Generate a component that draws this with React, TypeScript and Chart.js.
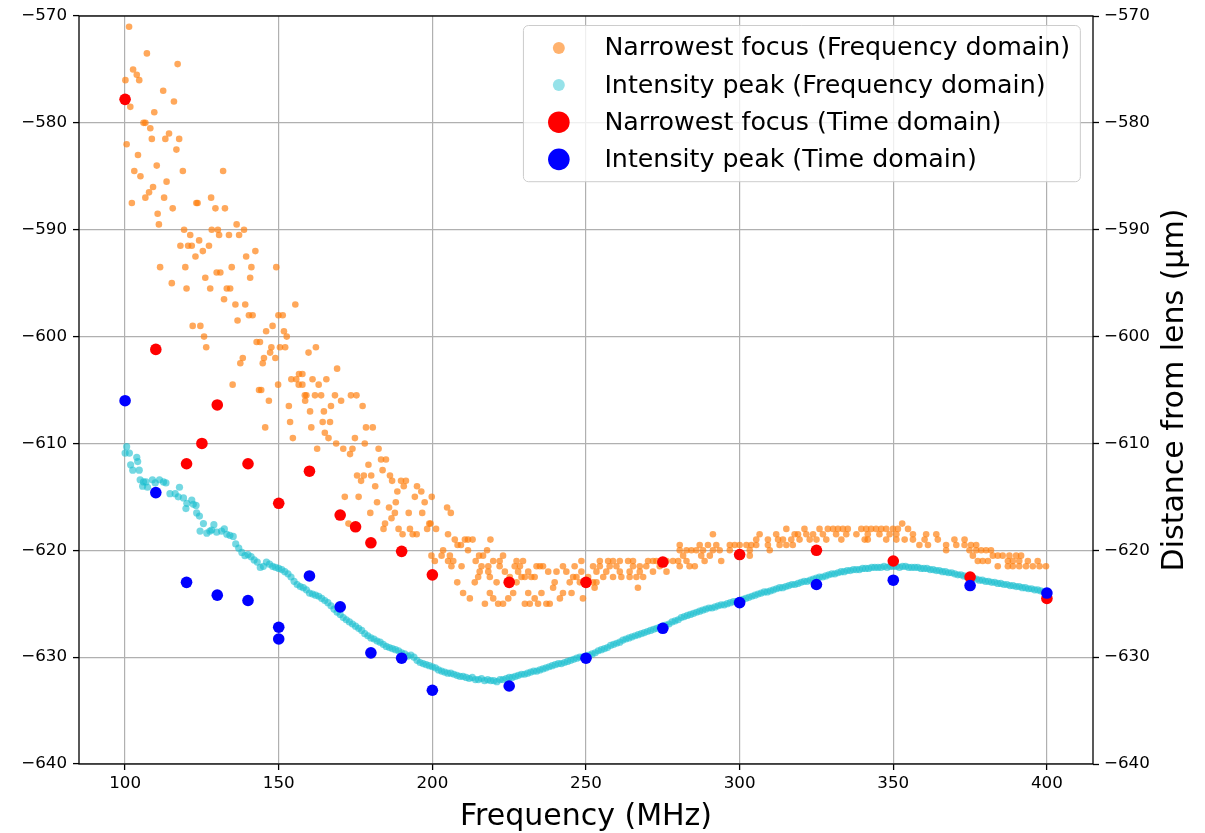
import React, { useEffect, useRef } from "react";
import { Chart, registerables } from "chart.js";

Chart.register(...registerables);

const FONT = "'DejaVu Sans', 'Liberation Sans', sans-serif";

// Axis ticks
const xTickValues = [100, 150, 200, 250, 300, 350, 400];
const yTickValues = [-640, -630, -620, -610, -600, -590, -580, -570];

// Time-domain measurements
const timeFreq = [100, 110, 120, 125, 130, 140, 150, 160, 170, 175, 180, 190, 200, 225, 250, 275, 300, 325, 350, 375, 400];
const narrowestTime = [-577.8, -601.2, -611.9, -610.0, -606.4, -611.9, -615.6, -612.6, -616.7, -617.8, -619.3, -620.1, -622.3, -623.0, -623.0, -621.1, -620.4, -620.0, -621.0, -622.5, -624.5];

const peakTimeFreq = [100, 110, 120, 130, 140, 150, 150, 160, 170, 180, 190, 200, 225, 250, 275, 300, 325, 350, 375, 400];
const peakTime = [-606.0, -614.6, -623.0, -624.2, -624.7, -627.2, -628.3, -622.4, -625.3, -629.6, -630.1, -633.1, -632.7, -630.1, -627.3, -624.9, -623.2, -622.8, -623.3, -624.0];

// Frequency-domain narrowest focus: [MHz, µm]
const narrowestFreq: [number, number][] = [
  [101.3, -571.0], [107.1, -573.5], [117.1, -574.5], [102.6, -575.0], [103.8, -575.5], [104.6, -576.0], [100.1, -576.0],
  [112.4, -577.0], [115.9, -578.0], [101.7, -578.5], [109.5, -579.0], [106.0, -580.0], [106.6, -580.0], [108.2, -580.5],
  [114.3, -581.0], [108.7, -581.5], [113.1, -581.5], [117.6, -581.5], [100.5, -582.0], [116.7, -582.5], [104.2, -583.0],
  [110.3, -584.0], [103.0, -584.5], [118.8, -584.5], [131.9, -584.5], [105.0, -585.0], [113.5, -585.5], [109.1, -586.0],
  [107.8, -586.5], [106.6, -587.0], [112.7, -587.0], [128.0, -587.0], [102.2, -587.5], [123.2, -587.5], [123.6, -587.5],
  [115.5, -588.0], [129.4, -588.0], [132.5, -588.0], [110.6, -588.5], [111.0, -589.5], [136.3, -589.5], [119.2, -590.0],
  [128.2, -590.0], [130.2, -590.0], [138.7, -590.0], [121.2, -590.5], [130.6, -590.5], [133.8, -590.5], [137.1, -590.5],
  [124.1, -591.0], [118.0, -591.5], [120.5, -591.5], [121.7, -591.5], [127.3, -591.5], [125.3, -592.0], [142.4, -592.0],
  [122.9, -592.5], [139.4, -592.5], [111.4, -593.5], [119.6, -593.5], [134.7, -593.5], [141.1, -593.5], [149.2, -593.5],
  [115.2, -595.0], [126.1, -594.5], [129.8, -594.0], [131.0, -594.0], [140.7, -594.5], [120.0, -595.5], [127.7, -595.5],
  [133.1, -595.5], [134.2, -595.5], [132.2, -596.5], [135.9, -597.0], [139.1, -597.0], [155.4, -597.0], [140.3, -598.0],
  [141.5, -598.0], [149.9, -598.0], [151.3, -598.0], [136.6, -598.5], [122.0, -599.0], [124.5, -599.0], [148.0, -599.0],
  [125.7, -600.0], [145.9, -599.5], [151.7, -599.5], [152.6, -600.0], [126.4, -601.0], [142.8, -600.5], [143.9, -600.5],
  [147.6, -601.0], [150.4, -601.0], [152.1, -601.0], [162.1, -601.0], [159.7, -601.5], [147.2, -601.5], [138.3, -602.0],
  [145.2, -602.0], [148.9, -602.0], [137.5, -602.5], [144.8, -602.5], [169.0, -603.0], [154.1, -604.0], [156.6, -603.5],
  [157.7, -603.5], [155.7, -604.0], [161.0, -604.0], [165.5, -604.0], [135.0, -604.5], [143.6, -605.0], [144.3, -605.0],
  [149.8, -604.5], [156.5, -604.5], [157.7, -604.5], [163.0, -604.5], [158.5, -605.5], [159.0, -605.5], [161.8, -605.5],
  [163.8, -605.5], [168.3, -605.5], [146.8, -606.0], [158.6, -606.0], [153.3, -606.5], [167.0, -606.5], [160.2, -607.0],
  [164.7, -607.0], [153.7, -608.0], [164.3, -608.0], [166.7, -608.0], [145.6, -608.5], [160.6, -608.5], [165.0, -609.0],
  [154.6, -609.5], [166.2, -609.5], [168.7, -610.0], [162.5, -610.5],
  [173.5, -605.5], [175.3, -605.5], [170.3, -606.0], [177.3, -606.5], [178.4, -608.5], [180.6, -608.5], [174.8, -609.5],
  [178.0, -610.0], [171.0, -610.5], [174.0, -610.5], [173.2, -611.0], [182.5, -610.5], [179.2, -612.0], [183.3, -611.5],
  [184.9, -611.5], [183.8, -612.5], [175.5, -613.0], [177.7, -613.0], [180.1, -613.0], [176.8, -613.5], [186.2, -613.0],
  [186.9, -613.5], [189.8, -613.5], [191.4, -613.5], [181.4, -614.0], [190.7, -614.0], [195.0, -614.0], [196.4, -614.5],
  [188.6, -614.5], [171.5, -615.0], [176.0, -615.0], [194.3, -615.0], [199.8, -615.0], [182.0, -615.5], [188.1, -615.5],
  [197.5, -615.5], [185.9, -616.0], [179.8, -616.5], [187.8, -616.5], [192.3, -616.5], [196.7, -616.5], [204.8, -616.0],
  [206.0, -616.5], [186.7, -617.0], [172.7, -617.5], [184.6, -617.5], [199.0, -617.5], [199.4, -617.5], [184.1, -618.0],
  [189.0, -618.0], [192.7, -618.0], [198.3, -618.0], [201.2, -618.0], [190.3, -618.5], [193.6, -618.5], [194.9, -618.5],
  [205.1, -618.5], [207.3, -619.0], [210.6, -619.0], [211.6, -619.0], [213.1, -619.0], [218.9, -619.0],
  [208.2, -619.5], [209.3, -619.5],
  [203.5, -620.0], [211.6, -620.0], [217.8, -620.0],
  [199.7, -620.5], [203.0, -620.5], [205.7, -620.5], [215.2, -620.5], [216.5, -620.5], [223.0, -620.5],
  [200.8, -621.0], [205.1, -621.0], [206.8, -621.0], [214.1, -621.0], [221.9, -621.0], [229.5, -621.0], [248.5, -621.0],
  [254.5, -621.0], [258.8, -621.0], [263.7, -621.0], [270.2, -621.0], [276.2, -621.0], [280.0, -621.0], [219.8, -621.0],
  [227.4, -621.0], [257.2, -621.0], [261.0, -621.0], [265.3, -621.0], [271.8, -621.0], [272.9, -621.0], [278.3, -621.0],
  [206.2, -621.5], [209.5, -621.5], [216.0, -621.5], [218.2, -621.5], [221.9, -621.5], [226.8, -621.5], [228.5, -621.5],
  [233.9, -621.5], [235.0, -621.5], [236.0, -621.5], [242.5, -621.5], [246.3, -621.5], [252.3, -621.5], [254.5, -621.5],
  [257.7, -621.5], [259.9, -621.5], [265.3, -621.5], [267.5, -621.5], [269.6, -621.5], [274.0, -621.5],
  [215.4, -622.0], [218.2, -622.0], [223.6, -622.0], [227.9, -622.0], [231.2, -622.0], [237.7, -622.0], [240.4, -622.0],
  [243.6, -622.0], [248.5, -622.0], [253.4, -622.0], [256.6, -622.0], [261.0, -622.0], [264.2, -622.0], [267.5, -622.0],
  [271.8, -622.0], [276.2, -622.0],
  [214.9, -622.5], [218.7, -622.5], [225.2, -622.5], [229.0, -622.5], [230.1, -622.5], [232.2, -622.5], [233.3, -622.5],
  [245.8, -622.5], [246.9, -622.5], [250.7, -622.5], [255.6, -622.5], [258.8, -622.5], [261.5, -622.5], [264.2, -622.5],
  [266.4, -622.5], [268.6, -622.5],
  [208.1, -623.0], [213.8, -623.0], [220.9, -623.0], [227.4, -623.0], [239.8, -623.0], [244.7, -623.0], [248.0, -623.0],
  [252.3, -623.0], [253.4, -623.0],
  [239.3, -623.5], [252.8, -623.5], [266.9, -623.5],
  [210.0, -624.0], [218.7, -624.0], [226.3, -624.0], [231.2, -624.0], [235.5, -624.0], [242.5, -624.0], [245.3, -624.0],
  [212.2, -624.5], [219.8, -624.5], [224.7, -624.5], [233.3, -624.5], [241.5, -624.5], [249.0, -624.5],
  [217.1, -625.0], [221.4, -625.0], [223.0, -625.0], [230.1, -625.0], [231.7, -625.0], [234.4, -625.0], [237.1, -625.0],
  [238.2, -625.0],
  [352.9, -617.5],
  [315.2, -618.0], [321.1, -618.0], [326.0, -618.0], [328.7, -618.0], [330.4, -618.0], [332.0, -618.0], [333.6, -618.0],
  [335.2, -618.0], [339.6, -618.0], [341.2, -618.0], [342.8, -618.0], [344.4, -618.0], [346.1, -618.0], [347.7, -618.0],
  [349.9, -618.0], [351.5, -618.0], [354.8, -618.0],
  [291.3, -618.5], [306.5, -618.5], [311.9, -618.5], [317.9, -618.5], [319.0, -618.5], [321.7, -618.5], [323.9, -618.5],
  [327.1, -618.5], [331.4, -618.5], [334.7, -618.5], [338.0, -618.5], [341.7, -618.5], [345.5, -618.5], [348.8, -618.5],
  [351.0, -618.5], [356.4, -618.5], [360.7, -618.5], [364.0, -618.5],
  [305.4, -619.0], [309.2, -619.0], [312.5, -619.0], [314.1, -619.0], [316.8, -619.0], [319.5, -619.0], [322.8, -619.0],
  [325.0, -619.0], [328.2, -619.0], [333.1, -619.0], [340.7, -619.0], [341.7, -619.0], [347.7, -619.0], [351.0, -619.0],
  [353.7, -619.0], [356.4, -619.0], [360.2, -619.0], [364.5, -619.0], [369.9, -619.0], [373.2, -619.0],
  [280.5, -619.5], [287.0, -619.5], [289.7, -619.5], [292.4, -619.5], [296.8, -619.5], [298.4, -619.5], [300.0, -619.5],
  [302.2, -619.5], [303.8, -619.5], [305.4, -619.5], [309.2, -619.5], [313.0, -619.5], [315.2, -619.5], [317.3, -619.5],
  [358.5, -619.5], [361.3, -619.5], [367.2, -619.5], [370.5, -619.5], [373.2, -619.5], [375.3, -619.5], [377.0, -619.5],
  [280.5, -620.0], [282.7, -620.0], [284.3, -620.0], [285.9, -620.0], [288.1, -620.0], [291.3, -620.0], [293.5, -620.0],
  [296.8, -620.0], [303.3, -620.0], [309.8, -620.0], [367.2, -620.0], [374.8, -620.0], [377.0, -620.0], [378.6, -620.0],
  [380.2, -620.0], [381.8, -620.0],
  [281.6, -620.5], [287.5, -620.5], [290.3, -620.5], [303.3, -620.5], [375.9, -620.5], [382.4, -620.5], [384.0, -620.5],
  [385.6, -620.5], [387.8, -620.5], [390.0, -620.5], [391.6, -620.5],
  [282.7, -621.0], [288.6, -621.0], [294.0, -621.0], [377.5, -621.0], [379.1, -621.0], [380.8, -621.0], [387.3, -621.0],
  [388.9, -621.0], [391.0, -621.0], [393.8, -621.0], [397.0, -621.0],
  [280.5, -621.5], [283.7, -621.5], [285.4, -621.5], [384.0, -621.5], [387.3, -621.5], [388.9, -621.5], [391.0, -621.5],
  [393.2, -621.5], [395.4, -621.5], [397.6, -621.5], [399.7, -621.5],
];

// Frequency-domain intensity peak: [MHz, µm]
const peakFreq: [number, number][] = [
  [100.0, -610.9], [100.5, -610.3], [101.4, -610.9], [101.8, -612.0], [102.5, -612.5], [103.8, -611.3], [104.1, -611.7],
  [104.6, -612.5], [104.9, -613.4], [105.7, -614.0], [106.0, -613.6], [106.8, -613.6], [107.3, -614.1], [108.9, -613.4],
  [109.8, -613.7], [111.2, -613.4], [112.5, -613.6], [113.3, -613.7], [114.6, -614.7], [116.3, -614.7], [117.3, -615.0],
  [117.7, -614.1], [119.0, -615.1], [119.8, -616.1], [120.1, -615.6], [121.7, -615.3], [122.2, -615.7], [123.1, -615.8],
  [123.3, -616.5], [124.2, -616.8], [124.4, -618.2], [125.5, -617.5], [126.6, -618.4], [127.6, -618.2], [128.2, -618.1],
  [128.9, -617.6], [129.8, -618.3], [131.4, -618.2], [132.3, -618.0], [133.1, -618.5], [134.1, -618.6], [135.2, -618.7],
  [136, -619.4], [137, -619.8], [138, -620.2], [139, -620.5], [140, -620.4], [141, -620.6], [142, -620.9], [143, -621.1],
  [144, -621.6], [145, -621.5], [146, -621.1], [147, -621.3], [148, -621.5], [149, -621.6], [150, -621.7], [151, -621.8],
  [152, -622.0], [153, -622.2], [154, -622.5], [155, -622.9], [156, -623.2], [157, -623.4], [158, -623.5], [159, -623.7],
  [160, -624.0], [161, -624.1], [162, -624.2], [163, -624.3], [164, -624.5], [165, -624.7], [166, -624.9], [167, -625.2],
  [168, -625.5], [169, -625.8], [170, -626.0], [171, -626.3], [172, -626.5], [173, -626.7], [174, -626.9], [175, -627.1],
  [176, -627.3], [177, -627.5], [178, -627.8], [179, -628.0], [180, -628.2], [181, -628.3], [182, -628.5], [183, -628.6],
  [184, -628.8], [185, -629.0], [186, -629.1], [187, -629.2], [188, -629.3], [189, -629.4], [190, -629.6], [191, -629.7],
  [192, -629.9], [193, -629.8], [194, -630.0], [195, -630.3], [196, -630.5], [197, -630.6], [198, -630.7], [199, -630.8],
  [200, -630.9], [201, -631.0], [202, -631.2], [203, -631.3], [204, -631.4], [205, -631.5], [206, -631.5], [207, -631.6],
  [208, -631.7], [209, -631.8], [210, -631.8], [211, -631.9], [212, -632.0], [213, -631.9], [214, -632.1], [215, -632.1],
  [216, -632.0], [217, -632.2], [218, -632.1], [219, -632.2], [220, -632.2], [221, -632.3], [222, -632.1], [223, -632.1],
  [224, -632.0], [225, -631.9], [226, -631.9], [227, -631.8], [228, -631.7], [229, -631.6], [230, -631.6], [231, -631.5],
  [232, -631.4], [233, -631.3], [234, -631.3], [235, -631.2], [236, -631.1], [237, -631.0], [238, -630.9], [239, -630.8],
  [240, -630.7], [241, -630.6], [242, -630.6], [243, -630.5], [244, -630.4], [245, -630.3], [246, -630.2], [247, -630.1],
  [248, -630.0], [249, -630.0], [250, -629.9], [251, -629.8], [252, -629.7], [253, -629.6], [254, -629.4], [255, -629.3],
  [256, -629.2], [257, -629.1], [258, -628.9], [259, -628.8], [260, -628.7], [261, -628.6], [262, -628.4], [263, -628.3],
  [264, -628.2], [265, -628.1], [266, -628.0], [267, -627.9], [268, -627.8], [269, -627.7], [270, -627.6], [271, -627.5],
  [272, -627.4], [273, -627.3], [274, -627.2], [275, -627.1], [276, -627.0], [277, -626.9], [278, -626.7], [279, -626.6],
  [280, -626.5], [281, -626.3], [282, -626.2], [283, -626.1], [284, -626.0], [285, -625.9], [286, -625.8], [287, -625.7],
  [288, -625.6], [289, -625.5], [290, -625.4], [291, -625.4], [292, -625.3], [293, -625.2], [294, -625.1], [295, -625.1],
  [296, -625.0], [297, -624.9], [298, -624.8], [299, -624.8], [300, -624.7], [301, -624.6], [302, -624.5], [303, -624.4],
  [304, -624.3], [305, -624.2], [306, -624.1], [307, -624.0], [308, -623.9], [309, -623.9], [310, -623.8], [311, -623.7],
  [312, -623.6], [313, -623.5], [314, -623.5], [315, -623.4], [316, -623.3], [317, -623.2], [318, -623.2], [319, -623.1],
  [320, -623.0], [321, -622.9], [322, -622.9], [323, -622.8], [324, -622.7], [325, -622.6], [326, -622.5], [327, -622.5],
  [328, -622.4], [329, -622.3], [330, -622.2], [331, -622.2], [332, -622.1], [333, -622.0], [334, -622.0], [335, -621.9],
  [336, -621.9], [337, -621.8], [338, -621.8], [339, -621.8], [340, -621.7], [341, -621.7], [342, -621.7], [343, -621.6],
  [344, -621.6], [345, -621.6], [346, -621.6], [347, -621.5], [348, -621.6], [349, -621.5], [350, -621.5], [351, -621.5],
  [352, -621.6], [353, -621.5], [354, -621.5], [355, -621.6], [356, -621.6], [357, -621.6], [358, -621.6], [359, -621.7],
  [360, -621.7], [361, -621.7], [362, -621.8], [363, -621.8], [364, -621.9], [365, -621.9], [366, -622.0], [367, -622.0],
  [368, -622.1], [369, -622.1], [370, -622.2], [371, -622.3], [372, -622.3], [373, -622.4], [374, -622.5], [375, -622.6],
  [376, -622.6], [377, -622.7], [378, -622.8], [379, -622.8], [380, -622.9], [381, -622.9], [382, -623.0], [383, -623.0],
  [384, -623.1], [385, -623.1], [386, -623.2], [387, -623.2], [388, -623.3], [389, -623.3], [390, -623.4], [391, -623.4],
  [392, -623.5], [393, -623.5], [394, -623.6], [395, -623.6], [396, -623.7], [397, -623.7], [398, -623.8], [399, -623.9],
  [400, -623.9],
];

const seriesLabels = [
  "Narrowest focus (Frequency domain)",
  "Intensity peak (Frequency domain)",
  "Narrowest focus (Time domain)",
  "Intensity peak (Time domain)",
];

const fmt = (v: number) => (v < 0 ? "\u2212" + Math.abs(v) : String(v));

const frameAndTextPlugin = {
  id: "frameAndText",
  afterDatasetsDraw(chart: any) {
    const { ctx, chartArea: a } = chart;
    ctx.save();
    // axes frame (spines)
    ctx.strokeStyle = "#000";
    ctx.lineWidth = 1.3;
    ctx.strokeRect(a.left, a.top, a.right - a.left, a.bottom - a.top);

    // axis titles
    ctx.fillStyle = "#000";
    ctx.font = `30px ${FONT}`;
    ctx.textAlign = "center";
    ctx.textBaseline = "alphabetic";
    ctx.fillText("Frequency (MHz)", (a.left + a.right) / 2, a.bottom + 61);
    ctx.save();
    ctx.translate(a.right + 90, (a.top + a.bottom) / 2);
    ctx.rotate(-Math.PI / 2);
    ctx.fillText("Distance from lens (\u00b5m)", 0, 0);
    ctx.restore();

    // legend
    const fs = 25.3;
    const pad = 0.4 * fs;
    const rowH = 24.5;
    const gap = 0.5 * fs;
    ctx.font = `${fs}px ${FONT}`;
    const ds = chart.data.datasets;
    let tw = 0;
    ds.forEach((d: any) => (tw = Math.max(tw, ctx.measureText(d.label).width)));
    const w = pad + 2 * fs + 0.8 * fs + tw + pad;
    const h = 2 * pad + ds.length * rowH + (ds.length - 1) * gap;
    const right = a.right - 0.5 * fs;
    const top = a.top + 9.5;
    const left = right - w;
    ctx.beginPath();
    (ctx as any).roundRect(left, top, w, h, 5);
    ctx.fillStyle = "rgba(255,255,255,0.8)";
    ctx.fill();
    ctx.strokeStyle = "#cccccc";
    ctx.lineWidth = 1;
    ctx.stroke();
    ds.forEach((d: any, i: number) => {
      const cy = top + pad + i * (rowH + gap) + rowH / 2;
      const cx = left + pad + fs;
      ctx.beginPath();
      ctx.arc(cx, cy, d.legendRadius, 0, Math.PI * 2);
      ctx.fillStyle = d.legendColor;
      ctx.fill();
      ctx.fillStyle = "#000";
      ctx.textAlign = "left";
      ctx.textBaseline = "middle";
      ctx.fillText(d.label, left + pad + 2.8 * fs, cy + 1);
    });
    ctx.restore();
  },
};

export default function App() {
  const ref = useRef<HTMLCanvasElement>(null);
  useEffect(() => {
    const canvas = ref.current;
    if (!canvas) return;
    const tickFont = { family: FONT, size: 16.7 };
    const chart = new Chart(canvas, {
      type: "scatter",
      data: {
        datasets: [
          {
            label: seriesLabels[0],
            data: narrowestFreq.map(([x, y]) => ({ x, y })),
            backgroundColor: "rgba(255,127,14,0.68)",
            legendColor: "rgba(255,127,14,0.6)",
            pointRadius: 3.3,
            pointBorderWidth: 0,
            order: 4,
            legendRadius: 6,
          } as any,
          {
            label: seriesLabels[1],
            data: peakFreq.map(([x, y]) => ({ x, y })),
            backgroundColor: "rgba(23,190,207,0.6)",
            legendColor: "rgba(23,190,207,0.45)",
            pointRadius: 3.6,
            pointBorderWidth: 0,
            order: 3,
            legendRadius: 6,
          } as any,
          {
            label: seriesLabels[2],
            data: timeFreq.map((x, i) => ({ x, y: narrowestTime[i] })),
            backgroundColor: "#ff0000",
            legendColor: "#ff0000",
            pointRadius: 5.8,
            pointBorderWidth: 0,
            order: 2,
            legendRadius: 10.8,
          } as any,
          {
            label: seriesLabels[3],
            data: peakTimeFreq.map((x, i) => ({ x, y: peakTime[i] })),
            backgroundColor: "#0000ff",
            legendColor: "#0000ff",
            pointRadius: 5.8,
            pointBorderWidth: 0,
            order: 1,
            legendRadius: 10.8,
          } as any,
        ],
      },
      options: {
        animation: false,
        responsive: true,
        maintainAspectRatio: false,
        devicePixelRatio: 1,
        layout: { padding: { top: 15, left: 0, right: 0, bottom: 0 } },
        plugins: { legend: { display: false }, tooltip: { enabled: false } },
        scales: {
          x: {
            type: "linear",
            position: "bottom",
            min: 85,
            max: 415,
            afterBuildTicks: (s: any) => {
              s.ticks = xTickValues.map((value) => ({ value }));
            },
            afterFit: (s: any) => {
              s.height = 69;
            },
            ticks: { font: tickFont, color: "#000", padding: 4, callback: (v: any) => fmt(Number(v)) },
            grid: { color: "#b0b0b0", lineWidth: 1.2, tickColor: "#000", tickLength: 6, tickWidth: 1.3 },
            border: { display: false },
          },
          y: {
            type: "linear",
            position: "left",
            min: -640,
            max: -570,
            afterBuildTicks: (s: any) => {
              s.ticks = yTickValues.map((value) => ({ value }));
            },
            afterFit: (s: any) => {
              s.width = 79;
            },
            ticks: { font: tickFont, color: "#000", padding: 6, callback: (v: any) => fmt(Number(v)) },
            grid: { color: "#b0b0b0", lineWidth: 1.2, tickColor: "#000", tickLength: 6, tickWidth: 1.3 },
            border: { display: false },
          },
          y2: {
            type: "linear",
            position: "right",
            min: -640,
            max: -570,
            afterBuildTicks: (s: any) => {
              s.ticks = yTickValues.map((value) => ({ value }));
            },
            afterFit: (s: any) => {
              s.width = 112;
            },
            ticks: { font: tickFont, color: "#000", padding: 5, callback: (v: any) => fmt(Number(v)) },
            grid: { drawOnChartArea: false, tickColor: "#000", tickLength: 6, tickWidth: 1.3 },
            border: { display: false },
          },
        },
      } as any,
      plugins: [frameAndTextPlugin],
    });
    return () => chart.destroy();
  }, []);
  return (
    <div style={{ position: "absolute", left: 0, top: 0, width: 1205, height: 833, background: "#fff" }}>
      <canvas ref={ref} />
    </div>
  );
}
